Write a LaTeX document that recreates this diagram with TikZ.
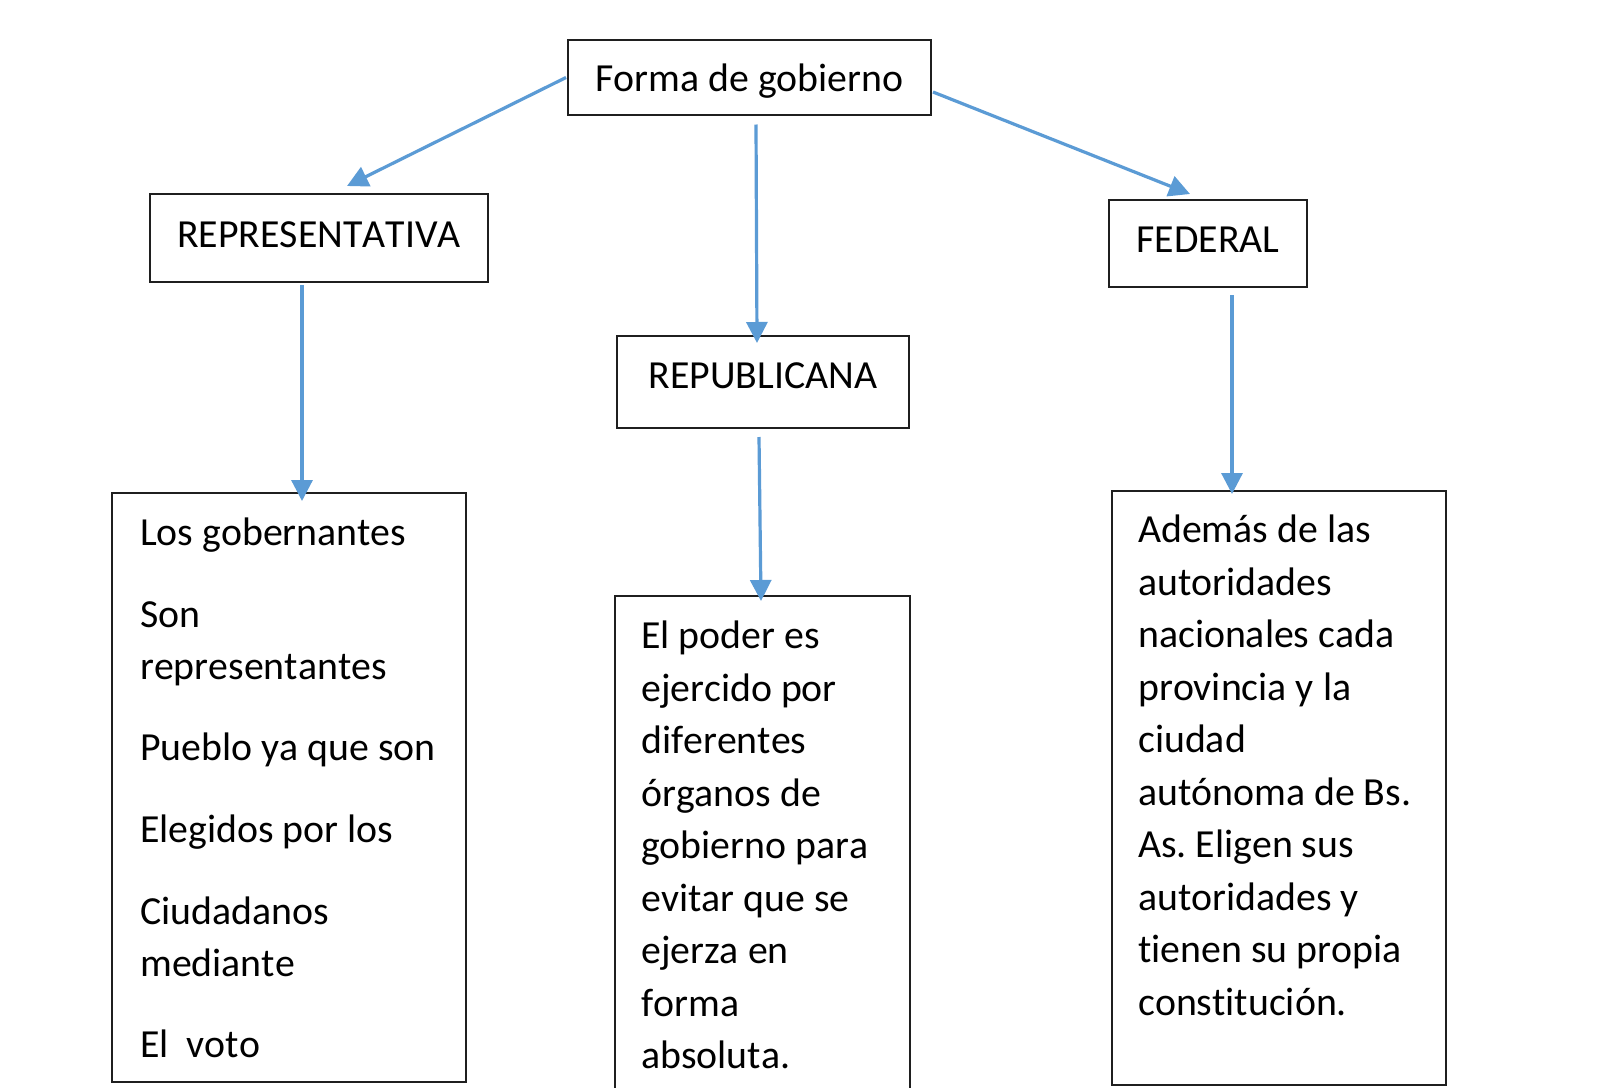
\documentclass[tikz,border=0pt]{standalone}
\usepackage{fontspec}
\setmainfont{Carlito}[Kerning=Off,Ligatures=CommonOff]
\usetikzlibrary{arrows.meta,calc}
\definecolor{arrowblue}{HTML}{5B9BD5}
\definecolor{boxline}{HTML}{1F1F1F}
\begin{document}
\begin{tikzpicture}[x=1pt,y=-1pt,
  box/.style={draw=boxline,line width=1.8pt,inner sep=0pt,outer sep=0pt,fill=white},
  lbl/.style={box,font=\fontsize{39.8}{47}\selectfont},
  arr/.style={draw=arrowblue,line width=3.2pt,-{Triangle[length=21pt,width=21pt]}},
  body/.style={inner sep=0pt,anchor=base west,align=left,text width=330pt}]
\useasboundingbox (0,0) rectangle (1600,1087);
\clip (0,0) rectangle (1600,1087);
\fill[white] (0,0) rectangle (1600,1087);

\node[lbl,minimum width=363pt,minimum height=75pt,text height=27pt,text depth=0pt] (forma) at (749.5,77.5) {Forma de gobierno};
\node[lbl,minimum width=338pt,minimum height=88pt,text height=27pt,text depth=9pt] (repr) at (319,238) {REPRESENTATIVA};
\node[lbl,minimum width=292pt,minimum height=92pt,text height=27pt,text depth=15pt] (repu) at (763,382) {REPUBLICANA};
\node[lbl,minimum width=198pt,minimum height=87pt,text height=27pt,text depth=10pt] (fed) at (1208,243.5) {FEDERAL};

\node[box,minimum width=354pt,minimum height=589pt] (boxL) at (289,787.5) {};
\node[box,minimum width=295pt,minimum height=540pt,anchor=north] (boxM) at (762.5,596) {};
\node[box,minimum width=334pt,minimum height=594pt] (boxR) at (1279,788) {};

\node[body,font=\fontsize{39.8}{52.1}\selectfont] (txtL) at (140,545.5) {\spaceskip=0pt\xspaceskip=0pt\frenchspacing Los gobernantes\\[29.5pt]
Son\\
representantes\\[29.5pt]
Pueblo ya que son\\[29.5pt]
Elegidos por los\\[29.5pt]
Ciudadanos\\
mediante\\[29.5pt]
El~~voto};

\node[body,font=\fontsize{39.8}{52.5}\selectfont] (txtM) at (641,648.5) {\spaceskip=0pt\xspaceskip=0pt\frenchspacing El poder es\\
ejercido por\\
diferentes\\
órganos de\\
gobierno para\\
evitar que se\\
ejerza en\\
forma\\
absoluta.};

\node[body,font=\fontsize{39.8}{52.5}\selectfont] (txtR) at (1138,542.5) {\spaceskip=0pt\xspaceskip=0pt\frenchspacing Además de las\\
autoridades\\
nacionales cada\\
provincia y la\\
ciudad\\
autónoma de Bs.\\
As. Eligen sus\\
autoridades y\\
tienen su propia\\
constitución.};

\draw[arr] ([xshift=-2pt]forma.west) -- ([shift={(28,-8)}]repr.north);
\draw[arr] ([shift={(6.5,9.5)}]forma.south) -- ([shift={(-6,7)}]repu.north);
\draw[arr] ([shift={(2,14.5)}]forma.east) -- ([shift={(-18,-6)}]fed.north);
\draw[arr] ([shift={(-17,3)}]repr.south) -- ([shift={(13,8)}]boxL.north);
\draw[arr] ([shift={(-4,9)}]repu.south) -- ([shift={(-1.5,5)}]boxM.north);
\draw[arr] ([shift={(24,8)}]fed.south) -- ([shift={(-47,3)}]boxR.north);
\end{tikzpicture}
\end{document}
